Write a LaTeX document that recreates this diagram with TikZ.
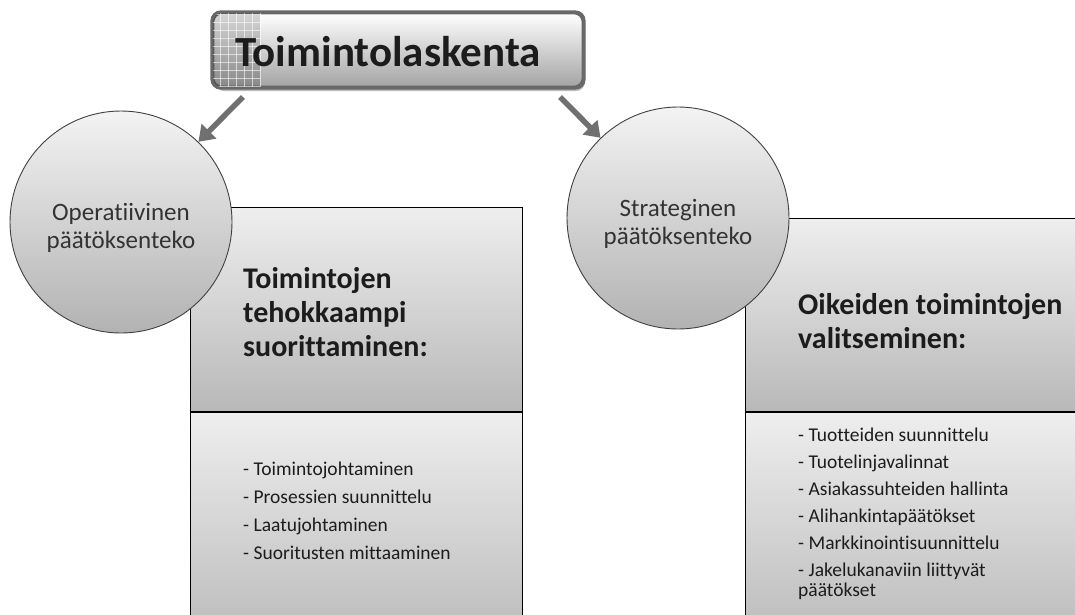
\documentclass[tikz,border=0pt]{standalone}
\usepackage{fontspec}
\setmainfont{Carlito}[Ligatures=NoCommon]
\usetikzlibrary{arrows.meta,shadows,calc}

\definecolor{panelTop}{HTML}{EEEEEE}
\definecolor{panelBot}{HTML}{B8B8B8}
\definecolor{bubbleTop}{HTML}{F3F3F3}
\definecolor{bubbleBot}{HTML}{B2B2B2}
\definecolor{arrowGray}{HTML}{707070}
\definecolor{titleEdge}{HTML}{686868}
\definecolor{inkText}{HTML}{1C1C1C}

\tikzset{
  panel/.style={draw=black, line width=1.2pt, rectangle, anchor=north west,
    top color=panelTop, bottom color=panelBot, inner sep=0pt},
  bubble/.style={circle, draw=black!75, line width=0.9pt, minimum size=222pt,
    top color=bubbleTop, bottom color=bubbleBot, align=center, text=black!80,
    font=\fontsize{25}{28}\selectfont, inner sep=0pt},
  bubbletext/.style={align=center, text=black!80, inner sep=0pt,
    font=\fontsize{25}{28}\selectfont},
  titlebox/.style={rectangle, rounded corners=9pt, draw=titleEdge, line width=2.6pt,
    minimum width=370pt, minimum height=74pt, top color=white, bottom color=black!36,
    drop shadow={shadow xshift=2pt, shadow yshift=-4pt, fill=black!45, opacity=.6}},
  heading/.style={align=left, anchor=west, inner sep=0pt, text=inkText,
    font=\fontsize{30}{34}\selectfont\bfseries},
  listing/.style={align=left, anchor=west, inner sep=0pt, text=inkText,
    font=\fontsize{19.5}{20}\selectfont},
  gridline/.style={white, opacity=.6, line width=.5pt},
  pointer/.style={draw=arrowGray, line width=5.5pt,
    -{Triangle[length=15pt,width=20pt]}}
}

\begin{document}
\begin{tikzpicture}[x=1pt,y=-1pt]
\useasboundingbox (0,0) rectangle (1075,614);
\fill[white] (0,0) rectangle (1075,614);

% left column panels
\node[panel, minimum width=332pt, minimum height=204pt] (lup) at (190,207) {};
\node[panel, minimum width=332pt, minimum height=240pt] (llow) at (lup.south west) {};

% right column panels
\node[panel, minimum width=345pt, minimum height=193pt] (rup) at (745,218) {};
\node[panel, minimum width=345pt, minimum height=240pt] (rlow) at (rup.south west) {};

% panel texts
\node[heading] (lhead) at (243,312) {Toimintojen\\tehokkaampi\\suorittaminen:};
\node[heading] (rhead) at (798,321) {Oikeiden toimintojen\\valitseminen:};

\node[listing] (llist) at (243,511) {- Toimintojohtaminen\\[8pt]
  - Prosessien suunnittelu\\[8pt]
  - Laatujohtaminen\\[8pt]
  - Suoritusten mittaaminen};
\node[listing] (rlist) at (798,514) {- Tuotteiden suunnittelu\\[7pt]
  - Tuotelinjavalinnat\\[7pt]
  - Asiakassuhteiden hallinta\\[7pt]
  - Alihankintapäätökset\\[7pt]
  - Markkinointisuunnittelu\\[7pt]
  - Jakelukanaviin liittyvät\\
  päätökset};

% decision circles
\node[bubble] (lc) at (121,222) {};
\node[bubble] (rc) at (678,218) {};
\node[bubbletext] (lctext) at ($(lc.center)+(0,6)$) {Operatiivinen\\päätöksenteko};
\node[bubbletext] (rctext) at ($(rc.center)+(0,6)$) {Strateginen\\päätöksenteko};

% title box with grid accent
\node[titlebox] (title) at (398,50) {};
\begin{scope}
  \clip[rounded corners=8pt] ($(title.north west)+(1.3pt,-1.3pt)$) rectangle ($(title.south east)+(-1.3pt,1.3pt)$);
  \fill[black, opacity=.16] (212,10) rectangle (260,90);
  \foreach \gx in {212,220,...,260} \draw[gridline] (\gx,10) -- (\gx,90);
  \foreach \gy in {14,22,...,90} \draw[gridline] (212,\gy) -- (260,\gy);
\end{scope}
\draw[titleEdge, line width=2.6pt, rounded corners=9pt] (title.north west) rectangle (title.south east);
\node[anchor=west, inner sep=0pt, text=inkText, font=\fontsize{43}{46}\selectfont\bfseries]
  (titletext) at (235,52) {Toimintolaskenta};

% connectors
\coordinate (s1) at (243,97);
\coordinate (s2) at (560,97);
\draw[pointer] (s1) -- (lc.46);
\draw[pointer] (s2) -- (rc.134);
\end{tikzpicture}
\end{document}
